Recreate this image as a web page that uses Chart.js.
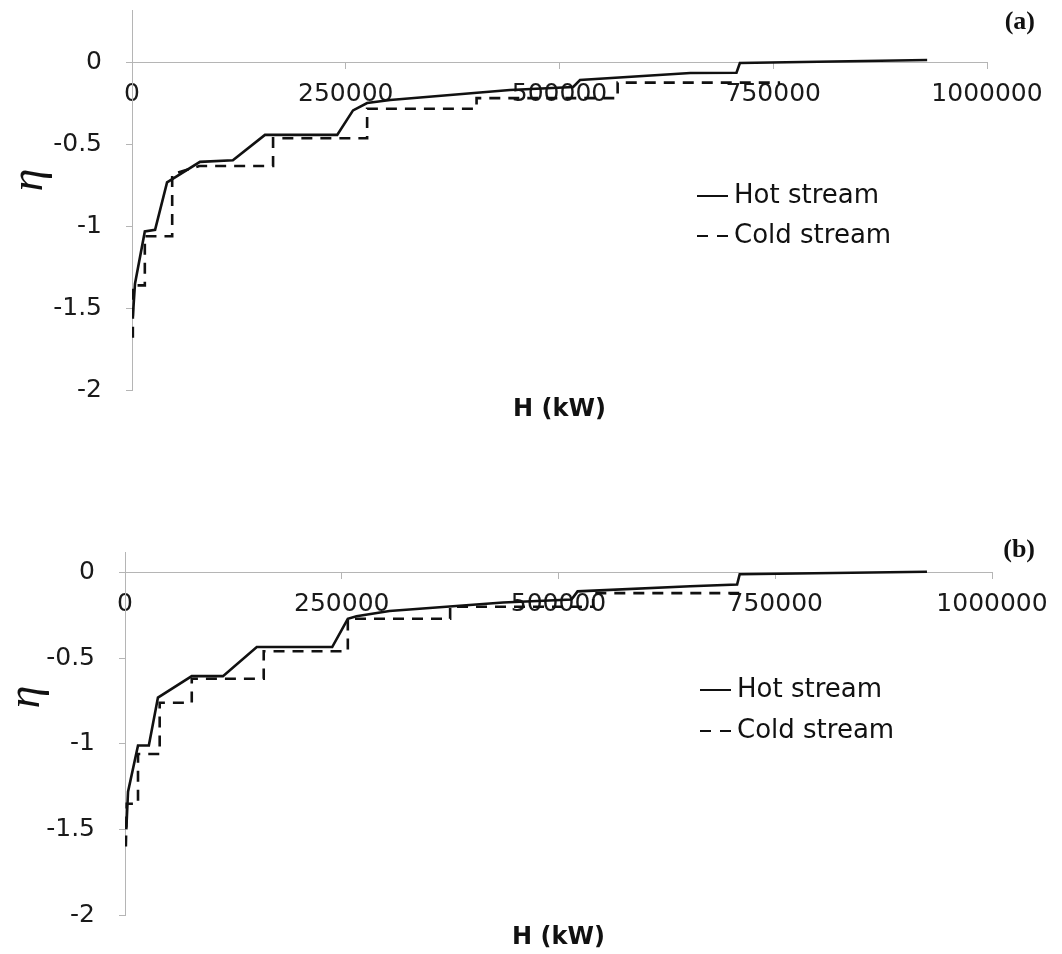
<!DOCTYPE html>
<html>
<head>
<meta charset="utf-8">
<script src="https://cdn.jsdelivr.net/npm/chart.js@4.4.1/dist/chart.umd.min.js"></script>
<style>
  body { margin: 0; background: #fff; }
  #wrap { position: relative; width: 1062px; height: 954px; overflow: hidden; }
  canvas { position: absolute; left: 0; }
  #chartA { top: -30px; }
  #chartB { top: 470px; }
</style>
</head>
<body>
<div id="wrap">
  <canvas id="chartA" width="1062" height="470"></canvas>
  <canvas id="chartB" width="1062" height="484"></canvas>
</div>
<script>
// panel (a)
var hotA_H = [1000, 3500, 15000, 27000, 41000, 79500, 118000, 155500, 240000, 258500, 275000, 302000, 442000, 516000, 524000, 653000, 707000, 711000, 930000];
var hotA_eta = [-1.55, -1.35, -1.03, -1.02, -0.73, -0.605, -0.595, -0.44, -0.44, -0.29, -0.245, -0.226, -0.165, -0.147, -0.104, -0.061, -0.06, 0, 0.018];
var coldA_H = [1000, 1000, 15000, 15000, 47000, 47000, 79000, 165000, 165000, 275000, 275000, 403000, 403000, 568000, 568000, 758000];
var coldA_eta = [-1.68, -1.36, -1.36, -1.06, -1.06, -0.68, -0.63, -0.63, -0.46, -0.46, -0.28, -0.28, -0.215, -0.215, -0.12, -0.12];

// panel (b)
var hotB_H = [1500, 3500, 15000, 27500, 38000, 77000, 113000, 152000, 239000, 257000, 267000, 305000, 436000, 515000, 522000, 652000, 706000, 709000, 925000];
var hotB_eta = [-1.5, -1.28, -1.01, -1.01, -0.73, -0.605, -0.605, -0.435, -0.435, -0.27, -0.255, -0.225, -0.175, -0.157, -0.11, -0.08, -0.07, -0.01, 0.005];
var coldB_H = [1000, 2000, 15000, 15000, 40000, 40000, 77000, 77000, 160000, 160000, 257000, 257000, 375000, 375000, 540000, 540000, 709000];
var coldB_eta = [-1.6, -1.35, -1.35, -1.06, -1.06, -0.76, -0.76, -0.62, -0.62, -0.46, -0.46, -0.27, -0.27, -0.2, -0.2, -0.12, -0.12];

var xTicks = [0, 250000, 500000, 750000, 1000000];
var yTicks = [-2, -1.5, -1, -0.5, 0];
var seriesLabels = ["Hot stream", "Cold stream"];

function pts(hs, etas) {
  return hs.map(function (h, i) { return { x: h, y: etas[i] }; });
}

// panel letter, eta title and the little legend
var panelText = {
  id: "panelText",
  afterDraw: function (chart, args, opts) {
    var ctx = chart.ctx;
    ctx.save();
    ctx.fillStyle = "#111";
    ctx.font = "bold 26px 'Liberation Serif'";
    ctx.textAlign = "right";
    ctx.textBaseline = "middle";
    ctx.fillText(opts.letter, opts.letterX, opts.letterY);

    ctx.translate(opts.etaX, opts.etaY);
    ctx.rotate(-Math.PI / 2);
    ctx.font = "italic 46px 'Liberation Serif'";
    ctx.textAlign = "center";
    ctx.fillText("η", 0, 0);
    ctx.restore();

    ctx.save();
    chart.data.datasets.forEach(function (ds, i) {
      var y = opts.legendY + i * opts.legendGap;
      ctx.strokeStyle = ds.borderColor;
      ctx.lineWidth = 2;
      ctx.setLineDash(i === 0 ? [] : [11, 9]);
      ctx.beginPath();
      ctx.moveTo(opts.legendX, y);
      ctx.lineTo(opts.legendX + 31, y);
      ctx.stroke();
      ctx.setLineDash([]);
      ctx.fillStyle = "#111";
      ctx.font = "26px 'DejaVu Sans'";
      ctx.textAlign = "left";
      ctx.textBaseline = "middle";
      ctx.fillText(ds.label, opts.legendX + 37, y);
    });
    ctx.restore();
  }
};

function makeChart(id, hotH, hotEta, coldH, coldEta, o) {
  var ctx = document.getElementById(id).getContext("2d");
  return new Chart(ctx, {
    type: "line",
    data: {
      datasets: [
        {
          label: seriesLabels[0],
          data: pts(hotH, hotEta),
          borderColor: "#111",
          borderWidth: 2.6,
          pointRadius: 0,
          tension: 0,
        },
        {
          label: seriesLabels[1],
          data: pts(coldH, coldEta),
          borderColor: "#111",
          borderWidth: 2.6,
          borderDash: [11, 8],
          pointRadius: 0,
          tension: 0,
        },
      ],
    },
    options: {
      responsive: false,
      animation: false,
      layout: { padding: { left: 0, right: o.padRight, top: o.padTop, bottom: o.padBottom } },
      plugins: {
        legend: { display: false },
        tooltip: { enabled: false },
        title: {
          display: true,
          text: "H (kW)",
          position: "bottom",
          fullSize: false,
          color: "#111",
          font: { family: "DejaVu Sans", size: 24, weight: "bold", lineHeight: 1 },
          padding: { top: o.titlePad, bottom: 0 },
        },
        panelText: o.text,
      },
      scales: {
        x: {
          type: "linear",
          position: { y: 0 },
          min: 0,
          max: 1000000,
          afterBuildTicks: function (s) {
            s.ticks = xTicks.map(function (v) { return { value: v }; });
          },
          ticks: {
            color: "#1a1a1a",
            font: { family: "DejaVu Sans", size: 25 },
            padding: 11,
            maxRotation: 0,
            autoSkip: false,
            callback: function (v) { return String(v); },
          },
          grid: { drawOnChartArea: false, tickLength: 6, color: "#b5b5b5" },
          border: { color: "#b5b5b5", width: 1 },
        },
        y: {
          type: "linear",
          position: "left",
          min: -2,
          max: o.yMax,
          afterBuildTicks: function (s) {
            s.ticks = yTicks.map(function (v) { return { value: v }; });
          },
          afterFit: function (s) { s.width = o.axisLeft; },
          ticks: {
            color: "#1a1a1a",
            font: { family: "DejaVu Sans", size: 25 },
            padding: 24,
            callback: function (v) { return String(v); },
          },
          grid: { drawOnChartArea: false, tickLength: 6, color: "#b5b5b5" },
          border: { color: "#b5b5b5", width: 1 },
        },
      },
    },
    plugins: [panelText],
  });
}

makeChart("chartA", hotA_H, hotA_eta, coldA_H, coldA_eta, {
  axisLeft: 132, padRight: 75, padTop: 40, padBottom: 18, yMax: 0.324, titlePad: 8,
  text: { letter: "(a)", letterX: 1035, letterY: 52, etaX: 30, etaY: 210, legendX: 697, legendY: 226, legendGap: 40 },
});

makeChart("chartB", hotB_H, hotB_eta, coldB_H, coldB_eta, {
  axisLeft: 125, padRight: 70, padTop: 82, padBottom: 2, yMax: 0.12, titlePad: 11,
  text: { letter: "(b)", letterX: 1035, letterY: 80, etaX: 27, etaY: 227, legendX: 700, legendY: 220, legendGap: 41 },
});
</script>
</body>
</html>
